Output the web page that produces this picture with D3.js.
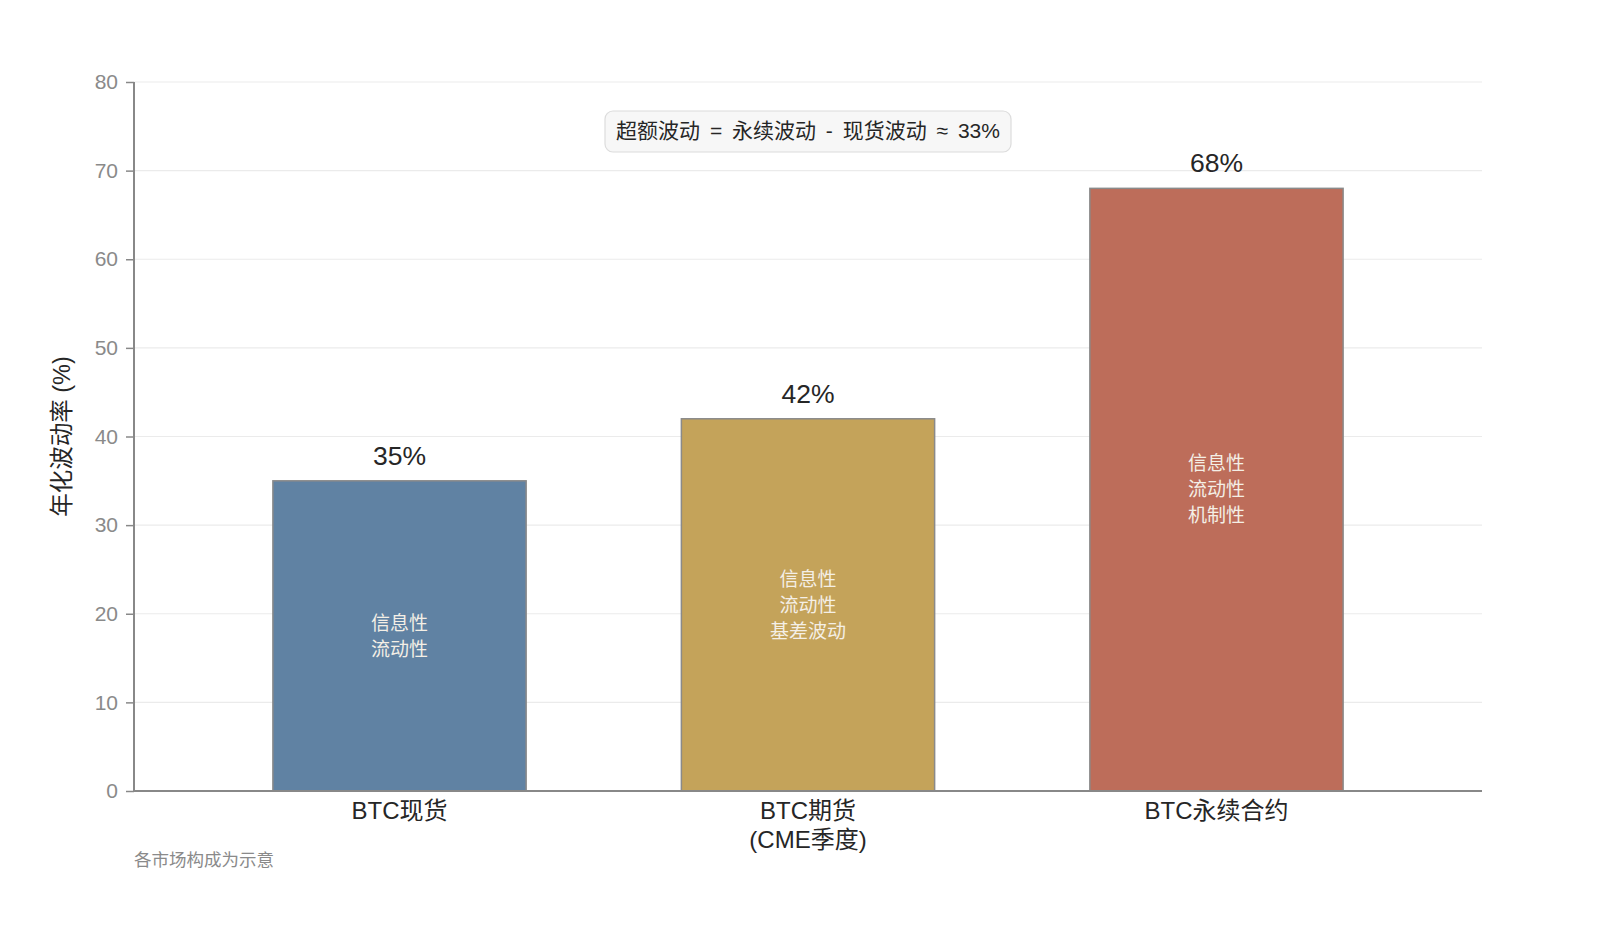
<!DOCTYPE html>
<html>
<head>
<meta charset="utf-8">
<script src="https://cdn.jsdelivr.net/npm/d3@7"></script>
<style>
  body { margin: 0; background: #fff; }
  svg text { font-family: "Liberation Sans", "Noto Sans CJK SC", sans-serif; }
</style>
</head>
<body>
<svg id="chart"></svg>
<script>
// Data
const categories = ["BTC现货", "BTC期货\n(CME季度)", "BTC永续合约"];
const values = [35, 42, 68];
const barNotes = [["信息性", "流动性"], ["信息性", "流动性", "基差波动"], ["信息性", "流动性", "机制性"]];
const colors = ["#6082a3", "#c4a35a", "#bd6d5a"];
const yTicks = [0, 10, 20, 30, 40, 50, 60, 70, 80];
const annotation = "超额波动 = 永续波动 - 现货波动 ≈ 33%";
const footnote = "各市场构成为示意";

const W = 1600, H = 933;
const margin = { top: 82, right: 118, bottom: 142, left: 134 };
const width = W - margin.left - margin.right;
const height = H - margin.top - margin.bottom;

const svg = d3.select("#chart").attr("width", W).attr("height", H);
const g = svg.append("g").attr("transform", `translate(${margin.left},${margin.top})`);

const x = d3.scaleLinear().domain([-0.65, 2.65]).range([0, width]);
const barW = 0.62;
const y = d3.scaleLinear().domain([0, 80]).range([height, 0]);

// gridlines
g.append("g").selectAll("line")
  .data(yTicks.slice(1))
  .enter().append("line")
    .attr("x1", 0).attr("x2", width)
    .attr("y1", d => y(d)).attr("y2", d => y(d))
    .attr("stroke", "#ebebeb").attr("stroke-width", 1.2);

// bars
g.selectAll(".bar")
  .data(values)
  .enter().append("rect")
    .attr("class", "bar")
    .attr("x", (d, i) => x(i - barW / 2))
    .attr("width", x(barW) - x(0))
    .attr("y", d => y(d))
    .attr("height", d => height - y(d))
    .attr("fill", (d, i) => colors[i])
    .attr("stroke", "#8a8a8a")
    .attr("stroke-width", 1.5);

// value labels
g.selectAll(".val")
  .data(values)
  .enter().append("text")
    .attr("x", (d, i) => x(i))
    .attr("y", d => y(d) - 16)
    .attr("text-anchor", "middle")
    .attr("font-size", 26.5)
    .attr("fill", "#262626")
    .text(d => d + "%");

// inner notes
values.forEach((v, i) => {
  const lines = barNotes[i];
  const cy = (y(v) + height) / 2;
  const lh = 26;
  lines.forEach((t, j) => {
    g.append("text")
      .attr("x", x(i))
      .attr("y", cy + (j - (lines.length - 1) / 2) * lh)
      .attr("dy", "0.35em")
      .attr("text-anchor", "middle")
      .attr("font-size", 19)
      .attr("fill", "#f4efe6")
      .text(t);
  });
});

// y axis
const yAxis = g.append("g")
  .call(d3.axisLeft(y).tickValues(yTicks).tickSize(8).tickPadding(8));
yAxis.select(".domain").attr("stroke", "#888").attr("stroke-width", 2).attr("d", `M0,${height}V0`);
yAxis.selectAll(".tick line").attr("stroke", "#888").attr("stroke-width", 1.5);
yAxis.selectAll("text").attr("font-size", 21).attr("fill", "#8a8a8a");

// bottom spine
g.append("line")
  .attr("x1", 0).attr("x2", width)
  .attr("y1", height).attr("y2", height)
  .attr("stroke", "#888").attr("stroke-width", 2);

// x labels
categories.forEach((c, i) => {
  const t = g.append("text")
    .attr("x", x(i))
    .attr("y", height + 28)
    .attr("text-anchor", "middle")
    .attr("font-size", 24)
    .attr("fill", "#262626");
  c.split("\n").forEach((line, j) => {
    t.append("tspan").attr("x", x(i)).attr("dy", j === 0 ? 0 : 29).text(line);
  });
});

// y label
svg.append("text")
  .attr("transform", `translate(70,${margin.top + height / 2}) rotate(-90)`)
  .attr("text-anchor", "middle")
  .attr("font-size", 23.5)
  .attr("fill", "#262626")
  .text("年化波动率 (%)");

// annotation box
const ann = svg.append("g").attr("transform", `translate(${margin.left + x(1)},131)`);
ann.append("rect")
  .attr("x", -203).attr("y", -20)
  .attr("width", 406).attr("height", 41)
  .attr("rx", 8)
  .attr("fill", "#f7f7f7").attr("stroke", "#dcdcdc").attr("stroke-width", 1.2);
ann.append("text")
  .attr("text-anchor", "middle")
  .attr("dy", "0.35em")
  .attr("font-size", 21)
  .attr("word-spacing", 4)
  .attr("fill", "#262626")
  .text(annotation);

// footnote
svg.append("text")
  .attr("x", margin.left)
  .attr("y", 866)
  .attr("font-size", 17.5)
  .attr("fill", "#8a8a8a")
  .text(footnote);
</script>
</body>
</html>
